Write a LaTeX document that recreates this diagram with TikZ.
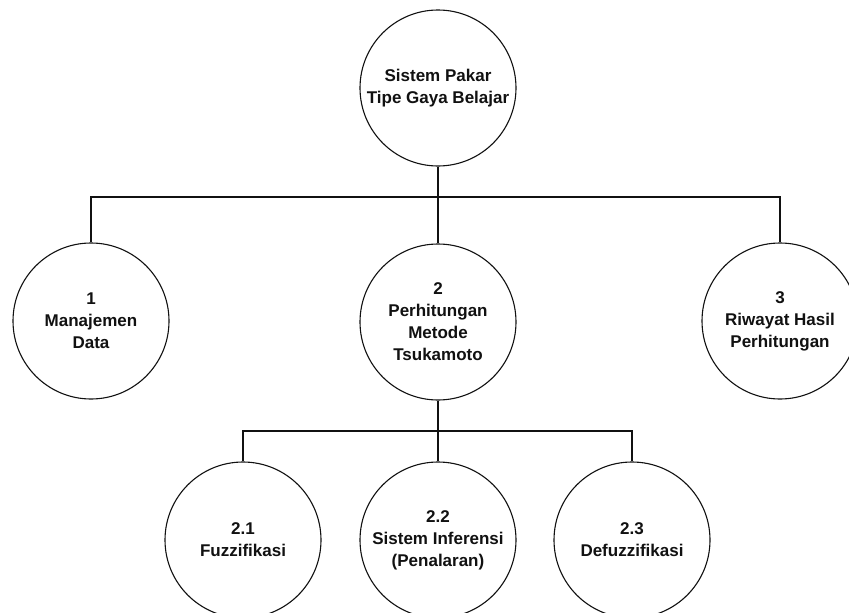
\documentclass[tikz,border=0pt]{standalone}
\usepackage{fontspec}
\setmainfont{Liberation Sans}
\usetikzlibrary{positioning}
\definecolor{HipoInk}{HTML}{111111}

\begin{document}
\begin{tikzpicture}[
      x=1pt, y=-1pt,
      proc/.style={
        circle,
        draw=HipoInk,
        line width=1.1pt,
        fill=white,
        minimum size=156pt,
        inner sep=0pt,
        align=center,
        font=\fontsize{17}{22}\selectfont\bfseries,
        text=HipoInk
      },
      link/.style={draw=HipoInk, line width=1.1pt}
    ]
    \useasboundingbox (0,0) rectangle (849,613);
    \clip (0,0) rectangle (849,613);

    \node[proc] (root) at (438,88) {Sistem Pakar\\Tipe Gaya Belajar};
    \node[proc] (data) at (91,321) {1\\Manajemen\\Data};
    \node[proc] (hitung) at (438,322) {2\\Perhitungan\\Metode\\Tsukamoto};
    \node[proc] (riwayat) at (780,321) {3\\Riwayat Hasil\\Perhitungan};
    \node[proc] (fuzz) at (243,540) {2.1\\Fuzzifikasi};
    \node[proc] (infer) at (438,540) {2.2\\Sistem Inferensi\\(Penalaran)};
    \node[proc] (defuzz) at (632,540) {2.3\\Defuzzifikasi};

    \coordinate (busA) at (438,197);
    \coordinate (busB) at (438,431);

    \draw[link] (root.south) -- (busA);
    \draw[link] (data.north) |- (busA) -| (riwayat.north);
    \draw[link] (busA) -- (hitung.north);
    \draw[link] (hitung.south) -- (busB);
    \draw[link] (fuzz.north) |- (busB) -| (defuzz.north);
    \draw[link] (busB) -- (infer.north);
  \end{tikzpicture}
\end{document}
